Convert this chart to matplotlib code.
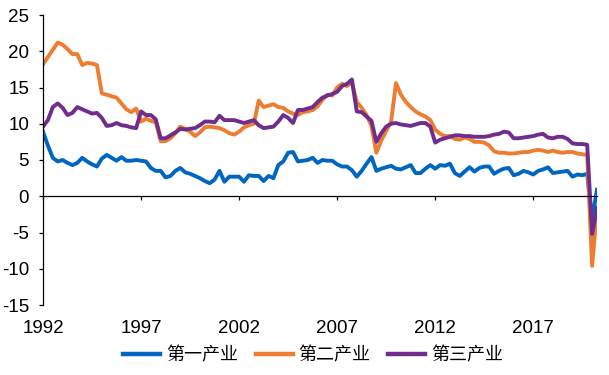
import numpy as np
import matplotlib
matplotlib.use("Agg")
from matplotlib import pyplot as plt

plt.rcParams["font.family"] = ["Liberation Sans", "Noto Sans CJK SC", "DejaVu Sans"]
plt.rcParams["axes.unicode_minus"] = False

# quarterly cumulative growth, 1992Q1 - 2020Q2
primary = [
    8.9, 7.0, 5.3, 4.8,
    5.0, 4.6, 4.3, 4.6,
    5.3, 4.8, 4.4, 4.1,
    5.2, 5.7, 5.3, 4.9,
    5.4, 4.9, 4.9, 5.0,
    4.9, 4.8, 3.9, 3.5,
    3.5, 2.6, 2.8, 3.5,
    3.9, 3.3, 3.1, 2.8,
    2.5, 2.1, 1.8, 2.3,
    3.5, 2.0, 2.7, 2.7,
    2.7, 2.0, 2.9, 2.8,
    2.8, 2.1, 2.8, 2.5,
    4.3, 4.8, 6.0, 6.1,
    4.8, 4.9, 5.0, 5.3,
    4.6, 5.0, 4.9, 4.9,
    4.4, 4.1, 4.1, 3.6,
    2.7, 3.5, 4.5, 5.4,
    3.5, 3.8, 4.0, 4.2,
    3.8, 3.7, 4.0, 4.3,
    3.2, 3.2, 3.8, 4.3,
    3.8, 4.3, 4.2, 4.5,
    3.2, 2.8, 3.4, 4.0,
    3.4, 3.9, 4.1, 4.1,
    3.1, 3.5, 3.8, 3.9,
    2.9, 3.1, 3.5, 3.3,
    3.0, 3.5, 3.7, 4.0,
    3.2, 3.3, 3.4, 3.5,
    2.7, 3.0, 2.9, 3.1,
    -3.2, 0.9,
]
secondary = [
    18.2, 19.2, 20.2, 21.2,
    20.9, 20.3, 19.6, 19.6,
    18.1, 18.4, 18.3, 18.1,
    14.2, 14.0, 13.8, 13.6,
    12.8, 12.0, 11.6, 12.1,
    10.3, 10.7, 10.4, 10.2,
    7.6, 7.6, 8.0, 8.7,
    9.6, 9.3, 8.9, 8.3,
    8.8, 9.5, 9.6, 9.5,
    9.4, 9.1, 8.7, 8.5,
    8.9, 9.5, 9.8, 10.0,
    13.2, 12.3, 12.5, 12.7,
    12.3, 12.2, 11.7, 11.4,
    11.2, 11.6, 11.7, 11.9,
    12.4, 13.3, 14.0, 13.9,
    15.0, 15.5, 15.2, 15.7,
    13.0, 12.2, 11.2, 9.7,
    6.0, 7.7, 9.0, 10.3,
    15.6, 14.0, 13.0, 12.3,
    11.7, 11.3, 11.0, 10.5,
    9.2, 8.6, 8.3, 8.3,
    7.9, 7.8, 8.1, 7.9,
    7.5, 7.5, 7.4, 7.0,
    6.2, 6.0, 6.0, 5.9,
    5.9, 6.0, 6.1, 6.1,
    6.3, 6.4, 6.3, 6.1,
    6.3, 6.1, 6.0, 6.1,
    6.1, 5.9, 5.8, 5.7,
    -9.6, -1.9,
]
tertiary = [
    9.6, 10.5, 12.3, 12.8,
    12.2, 11.2, 11.5, 12.3,
    12.0, 11.7, 11.4, 11.5,
    10.8, 9.7, 9.8, 10.1,
    9.8, 9.7, 9.5, 9.4,
    11.7, 11.2, 11.2, 10.6,
    8.0, 8.0, 8.4, 8.8,
    9.3, 9.2, 9.3, 9.4,
    9.8, 10.3, 10.3, 10.2,
    11.1, 10.5, 10.5, 10.5,
    10.3, 10.1, 10.3, 10.5,
    9.8, 9.4, 9.5, 9.6,
    10.3, 11.2, 10.8, 10.1,
    11.9, 11.9, 12.1, 12.3,
    13.0, 13.6, 13.9, 14.1,
    14.4, 15.2, 15.5, 16.1,
    11.7, 11.6, 11.0, 10.4,
    7.5, 8.7, 9.6, 10.0,
    10.1, 9.9, 9.8, 9.7,
    9.9, 10.1, 10.1, 9.6,
    7.4, 7.8, 8.0, 8.2,
    8.4, 8.4, 8.3, 8.3,
    8.2, 8.2, 8.2, 8.3,
    8.5, 8.6, 8.9, 8.8,
    8.0, 8.0, 8.1, 8.2,
    8.3, 8.5, 8.6, 8.1,
    8.0, 8.2, 8.2, 7.9,
    7.3, 7.2, 7.2, 7.1,
    -5.2, -1.6,
]
names = ["第一产业", "第二产业", "第三产业"]
colors = ["#0066C0", "#ED7D31", "#702D8C"]
year_labels = ["1992", "1997", "2002", "2007", "2012", "2017"]

x = np.arange(len(primary))

fig = plt.figure(figsize=(6.09, 3.75), dpi=100)
ax = fig.add_axes([43 / 609, 1 - 305 / 375, 554 / 609, 290 / 375])

for vals, name, c in zip([primary, secondary, tertiary], names, colors):
    ax.plot(x, vals, color=c, lw=2.8, label=name, solid_joinstyle="round")

ax.set_xlim(0, len(x) - 1)
ax.set_ylim(-15, 25)
ax.set_yticks(range(-15, 26, 5))

ax.spines["top"].set_visible(False)
ax.spines["right"].set_visible(False)
ax.spines["bottom"].set_position(("data", 0))
ax.spines["left"].set_linewidth(0.9)
ax.spines["bottom"].set_linewidth(0.9)

# a tick every 5 years (20 quarters), labels pushed down below the plot
ax.set_xticks(np.arange(0, len(x), 20), year_labels)
ax.tick_params(axis="x", direction="out", length=3, width=0.9, pad=86, labelsize=13.5)
ax.tick_params(axis="y", direction="out", length=3, width=0.9, pad=7, labelsize=13.5)

leg = ax.legend(loc="center", bbox_to_anchor=(313 / 609, 1 - 355 / 375),
                bbox_transform=fig.transFigure, ncol=3, frameon=False,
                prop={"family": ["Noto Sans CJK SC"], "size": 13},
                handlelength=2.05, handletextpad=0.3, columnspacing=1.0)
for line in leg.get_lines():
    line.set_linewidth(3.2)

fig.savefig("out.png", dpi=100)
